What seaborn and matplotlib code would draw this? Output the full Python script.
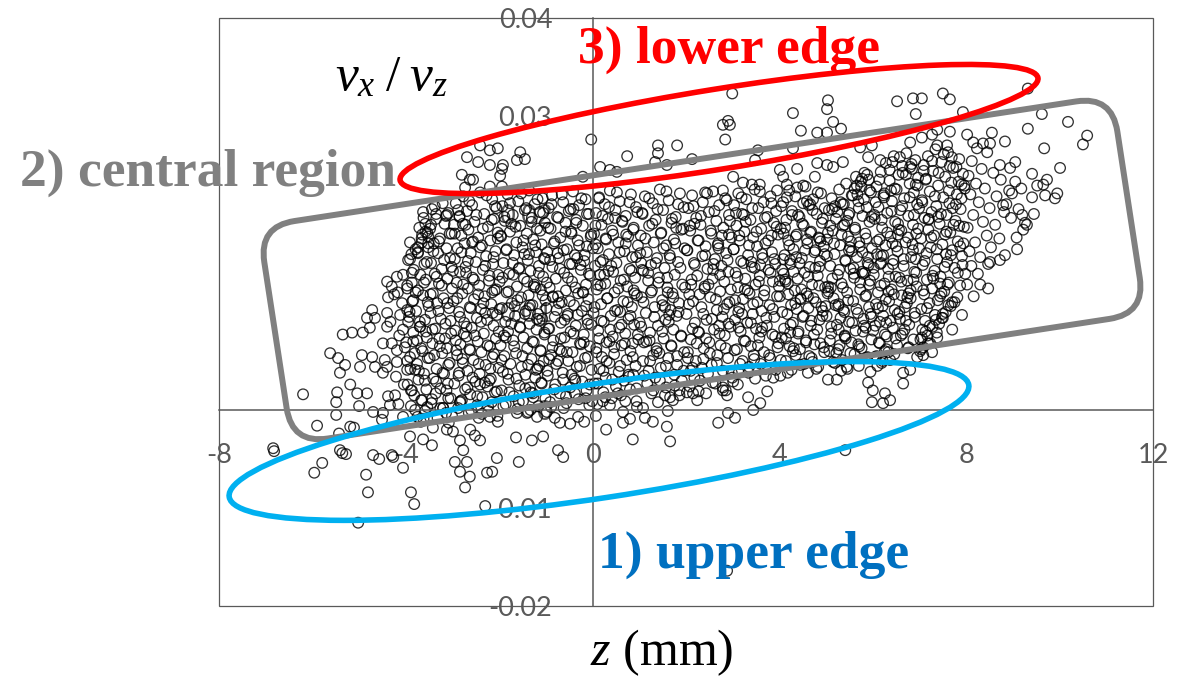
import numpy as np
import pandas as pd
import matplotlib
matplotlib.use("Agg")
import matplotlib.pyplot as plt
import matplotlib.transforms as mtransforms
from matplotlib.patches import Ellipse, FancyBboxPatch, Rectangle
import seaborn as sns

# ---------------------------------------------------------------------------
# Measured particles: z position (mm) and vx/vz ratio (in units of 1e-3)
# ---------------------------------------------------------------------------

# core of the cloud, slice by slice along z
z_a = [-4.25, -4.08, -4.33, -4.14, -4.02, -4.45, -4.21, -4.04, -4.38, -4.16]
r_a = [11.8, 10.9, 9.0, 7.6, 6.4, 5.1, 3.4, 2.6, 1.4, 0.6]

z_b = [-3.62, -3.58, -3.71, -3.54, -3.66, -3.52, -3.79, -3.88, -3.91, -3.60,
       -3.83, -3.69, -3.57, -3.97, -3.74, -3.63, -3.86, -3.51, -3.78, -3.93,
       -3.95, -3.70, -3.84, -3.55, -3.99, -3.67, -3.81, -3.53, -3.76, -3.90,
       -3.61, -3.73, -3.96, -3.56, -3.82, -3.65, -3.89, -3.59, -3.75, -3.68,
       -3.58, -3.66, -3.74, -3.55, -3.87, -3.61, -3.79, -3.53, -3.92, -3.70,
       -3.57, -3.84, -3.64, -3.97, -3.72, -3.59, -3.89, -3.67, -3.80, -3.62]
r_b = [19.6, 19.0, 18.6, 18.1, 17.5, 17.0, 16.4, 15.9, 15.4, 14.9,
       14.3, 13.8, 13.3, 12.7, 12.2, 11.7, 11.1, 10.6, 10.1, 9.5,
       9.0, 8.5, 7.9, 7.4, 6.9, 6.3, 5.8, 5.3, 4.7, 4.2,
       3.7, 3.1, 2.6, 2.1, 1.5, 1.0, 0.4, -0.1, -0.7, -1.2,
       18.2, 17.1, 16.0, 15.1, 14.0, 13.0, 12.0, 11.0, 10.0, 9.0,
       8.0, 7.0, 6.0, 5.0, 4.0, 3.0, 2.0, 1.0, 0.0, -0.9]

z_c = [-3.21, -3.44, -3.09, -3.35, -3.17, -3.48, -3.02, -3.27, -3.40, -3.13,
       -3.31, -3.05, -3.46, -3.23, -3.38, -3.11, -3.29, -3.01, -3.42, -3.19,
       -3.33, -3.07, -3.47, -3.25, -3.15, -3.37, -3.03, -3.28, -3.43, -3.12,
       -3.22, -3.49, -3.06, -3.34, -3.18, -3.41, -3.10, -3.26, -3.36, -3.04,
       -3.45, -3.20, -3.14, -3.32, -3.08,
       -3.38, -3.14, -3.46, -3.06, -3.29, -3.41, -3.18, -3.02, -3.34, -3.23,
       -3.47, -3.11, -3.30, -3.04, -3.43, -3.16, -3.27, -3.39, -3.09, -3.21,
       -3.35, -3.13, -3.44, -3.26, -3.01]
r_c = [21.1, 20.5, 20.1, 19.5, 19.0, 18.5, 18.0, 17.5, 17.0, 16.5,
       16.0, 15.5, 15.0, 14.4, 13.9, 13.4, 12.9, 12.4, 11.9, 11.4,
       10.9, 10.4, 9.9, 9.3, 8.8, 8.3, 7.8, 7.3, 6.8, 6.3,
       5.8, 5.3, 4.8, 4.2, 3.7, 3.2, 2.7, 2.2, 1.7, 1.2,
       0.7, 0.2, -0.3, -0.8, -1.3,
       20.8, 19.8, 18.9, 18.0, 17.2, 16.2, 15.3, 14.6, 13.6, 12.7,
       11.8, 10.9, 10.1, 9.1, 8.2, 7.3, 6.5, 5.6, 4.6, 3.8,
       2.9, 2.0, 1.1, 0.2, -0.6]

z_d = [-2.41, -2.77, -2.15, -2.93, -2.58, -2.06, -2.69, -2.32, -2.85, -2.11,
       -2.53, -2.97, -2.24, -2.66, -2.03, -2.81, -2.45, -2.19, -2.74, -2.37,
       -2.89, -2.08, -2.61, -2.28, -2.95, -2.50, -2.13, -2.72, -2.35, -2.84,
       -2.02, -2.57, -2.22, -2.91, -2.43, -2.67, -2.10, -2.79, -2.31, -2.54,
       -2.98, -2.17, -2.63, -2.39, -2.86, -2.05, -2.48, -2.26, -2.75, -2.12,
       -2.59, -2.94, -2.33, -2.70, -2.07, -2.46, -2.83, -2.20, -2.64, -2.38,
       -2.90, -2.14, -2.55, -2.78, -2.29, -2.01, -2.68, -2.42, -2.87, -2.18,
       -2.51, -2.96, -2.25, -2.73, -2.09, -2.62, -2.36, -2.80, -2.16, -2.47,
       -2.88, -2.23, -2.65, -2.04, -2.44, -2.71, -2.30, -2.92, -2.56, -2.21,
       -2.27, -2.64, -2.09, -2.88, -2.49, -2.16, -2.72, -2.35, -2.95, -2.03,
       -2.58, -2.41, -2.81, -2.12, -2.67, -2.30, -2.99, -2.21, -2.54, -2.77,
       -2.06, -2.45, -2.90, -2.34, -2.61, -2.14, -2.84, -2.39, -2.70, -2.01,
       -2.52, -2.93, -2.25, -2.62, -2.11, -2.79, -2.44, -2.19, -2.86, -2.57,
       -2.31, -2.68, -2.05, -2.47, -2.83, -2.24, -2.60, -2.37, -2.15, -2.76]
r_d = [22.2, 21.8, 21.5, 21.1, 20.9, 20.6, 20.3, 20.0, 19.8, 19.5,
       19.2, 18.9, 18.7, 18.4, 18.1, 17.8, 17.6, 17.3, 17.0, 16.8,
       16.5, 16.2, 16.0, 15.7, 15.4, 15.1, 14.9, 14.6, 14.3, 14.1,
       13.8, 13.5, 13.2, 13.0, 12.7, 12.4, 12.2, 11.9, 11.6, 11.3,
       11.1, 10.8, 10.5, 10.3, 10.0, 9.7, 9.4, 9.2, 8.9, 8.6,
       8.4, 8.1, 7.8, 7.5, 7.3, 7.0, 6.7, 6.5, 6.2, 5.9,
       5.6, 5.4, 5.1, 4.8, 4.6, 4.3, 4.0, 3.7, 3.5, 3.2,
       2.9, 2.7, 2.4, 2.1, 1.8, 1.6, 1.3, 1.0, 0.8, 0.5,
       0.2, -0.1, -0.3, -0.6, -0.8, 14.0, 9.9, 6.1, 17.2, 3.0,
       21.9, 21.3, 20.8, 20.4, 19.9, 19.4, 18.9, 18.5, 18.0, 17.5,
       17.1, 16.6, 16.1, 15.6, 15.2, 14.7, 14.2, 13.7, 13.3, 12.8,
       12.3, 11.8, 11.4, 10.9, 10.4, 9.9, 9.5, 9.0, 8.5, 8.0,
       7.6, 7.1, 6.6, 6.1, 5.7, 5.2, 4.7, 4.2, 3.8, 3.3,
       2.8, 2.3, 1.9, 1.4, 0.9, 0.4, 0.0, -0.4, 12.0, 7.8]

z_e = [-1.36, -1.82, -1.07, -1.59, -1.24, -1.93, -1.45, -1.13, -1.71, -1.30,
       -1.88, -1.02, -1.55, -1.19, -1.77, -1.41, -1.96, -1.27, -1.63, -1.09,
       -1.50, -1.85, -1.21, -1.68, -1.04, -1.39, -1.91, -1.15, -1.58, -1.33,
       -1.79, -1.06, -1.47, -1.99, -1.25, -1.62, -1.11, -1.84, -1.37, -1.53,
       -1.01, -1.73, -1.29, -1.94, -1.43, -1.17, -1.66, -1.08, -1.87, -1.35,
       -1.56, -1.20, -1.81, -1.03, -1.48, -1.70, -1.26, -1.97, -1.40, -1.12,
       -1.64, -1.89, -1.31, -1.05, -1.76, -1.52, -1.18, -1.92, -1.44, -1.23,
       -1.80, -1.10, -1.57, -1.34, -1.95, -1.28, -1.69, -1.01, -1.49, -1.86,
       -1.16, -1.61, -1.38, -1.74, -1.22, -1.90, -1.46, -1.14, -1.67, -1.32,
       -1.53, -1.18, -1.77, -1.42, -1.06, -1.89, -1.31, -1.65, -1.12, -1.97,
       -1.48, -1.23, -1.84, -1.36, -1.02, -1.71, -1.57, -1.15, -1.93, -1.40,
       -1.26, -1.80, -1.07, -1.61, -1.34, -1.99, -1.45, -1.19, -1.74, -1.55,
       -1.03, -1.86, -1.29, -1.68, -1.11, -1.50, -1.95, -1.38, -1.21, -1.82,
       -1.63, -1.09, -1.44, -1.78, -1.27, -1.58, -1.91, -1.33, -1.70, -1.14]
r_e = [22.4, 22.0, 21.6, 21.3, 21.0, 20.8, 20.4, 20.2, 19.9, 19.6,
       19.3, 19.1, 18.8, 18.5, 18.2, 18.0, 17.7, 17.4, 17.1, 16.9,
       16.6, 16.3, 16.1, 15.8, 15.5, 15.3, 15.0, 14.7, 14.4, 14.2,
       13.9, 13.6, 13.4, 13.1, 12.8, 12.6, 12.3, 12.0, 11.7, 11.5,
       11.2, 10.9, 10.7, 10.4, 10.1, 9.8, 9.6, 9.3, 9.0, 8.8,
       8.5, 8.2, 8.0, 7.7, 7.4, 7.1, 6.9, 6.6, 6.3, 6.1,
       5.8, 5.5, 5.2, 5.0, 4.7, 4.4, 4.2, 3.9, 3.6, 3.3,
       3.1, 2.8, 2.5, 2.3, 2.0, 1.7, 1.4, 1.2, 0.9, 0.6,
       0.4, 0.1, -0.2, 19.0, 12.5, 7.6, 15.9, 4.5, 10.6, 1.8,
       22.1, 21.5, 21.1, 20.6, 20.1, 19.7, 19.2, 18.7, 18.3, 17.8,
       17.3, 16.8, 16.4, 15.9, 15.4, 15.0, 14.5, 14.0, 13.5, 13.1,
       12.6, 12.1, 11.7, 11.2, 10.7, 10.3, 9.8, 9.3, 8.8, 8.4,
       7.9, 7.4, 7.0, 6.5, 6.0, 5.5, 5.1, 4.6, 4.1, 3.7,
       3.2, 2.7, 2.2, 1.8, 1.3, 0.8, 0.4, 0.0, 13.8, 9.1]

z_f = [-0.42, -0.87, -0.15, -0.63, -0.29, -0.94, -0.51, -0.08, -0.76, -0.35,
       -0.58, -0.21, -0.90, -0.46, -0.03, -0.69, -0.32, -0.83, -0.12, -0.55,
       -0.97, -0.38, -0.72, -0.18, -0.49, -0.86, -0.25, -0.61, -0.05, -0.79,
       -0.44, -0.14, -0.92, -0.57, -0.31, -0.74, -0.09, -0.66, -0.40, -0.99,
       -0.23, -0.53, -0.81, -0.11, -0.68, -0.36, -0.95, -0.47, -0.19, -0.60,
       -0.84, -0.27, -0.06, -0.71, -0.43, -0.89, -0.16, -0.52, -0.78, -0.34,
       -0.02, -0.64, -0.96, -0.39, -0.22, -0.80, -0.48, -0.13, -0.70, -0.57,
       -0.30, -0.91, -0.07, -0.62, -0.45, -0.26, -0.85, -0.10, -0.67, -0.37,
       -0.75, -0.20, -0.54, -0.93, -0.41,
       -0.66, -0.24, -0.88, -0.47, -0.12, -0.73, -0.35, -0.95, -0.58, -0.04,
       -0.81, -0.29, -0.62, -0.17, -0.91, -0.44, -0.70, -0.08, -0.53, -0.98,
       -0.37, -0.21, -0.85, -0.49, -0.14, -0.77, -0.32, -0.60, -0.03, -0.93,
       -0.41, -0.68, -0.19, -0.86, -0.55, -0.10, -0.74, -0.27, -0.97, -0.45,
       -0.63, -0.06, -0.82, -0.38, -0.15, -0.56, -0.89, -0.33, -0.72, -0.25]
r_f = [22.3, 21.9, 21.5, 21.2, 20.9, 20.6, 20.3, 20.0, 19.7, 19.4,
       19.1, 18.8, 18.5, 18.2, 17.9, 17.6, 17.3, 17.0, 16.7, 16.4,
       16.1, 15.8, 15.5, 15.2, 14.9, 14.6, 14.3, 14.0, 13.7, 13.4,
       13.1, 12.8, 12.5, 12.2, 11.9, 11.6, 11.3, 11.0, 10.7, 10.4,
       10.1, 9.8, 9.5, 9.2, 8.9, 8.6, 8.3, 8.0, 7.7, 7.4,
       7.1, 6.8, 6.5, 6.2, 5.9, 5.6, 5.3, 5.0, 4.7, 4.4,
       4.1, 3.8, 3.5, 3.2, 2.9, 2.6, 2.3, 2.0, 1.7, 1.4,
       1.1, 0.8, 0.5, 0.2, 18.0, 14.8, 11.5, 8.8, 6.0, 3.0,
       16.0, 12.0, 9.6, 5.2, 20.5,
       22.0, 21.6, 21.0, 20.5, 20.0, 19.6, 19.1, 18.6, 18.2, 17.7,
       17.2, 16.8, 16.3, 15.8, 15.3, 14.9, 14.4, 13.9, 13.5, 13.0,
       12.5, 12.0, 11.6, 11.1, 10.6, 10.2, 9.7, 9.2, 8.7, 8.3,
       7.8, 7.3, 6.9, 6.4, 5.9, 5.4, 5.0, 4.5, 4.0, 3.6,
       3.1, 2.6, 2.1, 1.7, 1.2, 0.7, 0.3, 15.5, 10.9, 6.7]

z_g = [0.37, 0.82, 0.14, 0.58, 0.26, 0.93, 0.49, 0.07, 0.71, 0.33,
       0.64, 0.19, 0.88, 0.42, 0.03, 0.76, 0.29, 0.55, 0.97, 0.11,
       0.68, 0.35, 0.85, 0.22, 0.51, 0.05, 0.79, 0.44, 0.16, 0.91,
       0.60, 0.27, 0.74, 0.09, 0.47, 0.95, 0.31, 0.66, 0.18, 0.84,
       0.53, 0.02, 0.39, 0.77, 0.24, 0.89, 0.57, 0.12, 0.70, 0.43,
       0.98, 0.30, 0.62, 0.08, 0.81, 0.46, 0.20, 0.73, 0.36, 0.92,
       0.15, 0.56, 0.87, 0.28, 0.67, 0.04, 0.50, 0.80, 0.23, 0.61,
       0.41, 0.94, 0.10, 0.72, 0.34, 0.59, 0.86, 0.17, 0.48, 0.78,
       0.52, 0.13, 0.79, 0.35, 0.96, 0.21, 0.63, 0.06, 0.87, 0.44,
       0.28, 0.71, 0.01, 0.58, 0.93, 0.17, 0.40, 0.83, 0.25, 0.67,
       0.10, 0.55, 0.90, 0.32, 0.75, 0.04, 0.48, 0.81, 0.19, 0.62,
       0.38, 0.97, 0.14, 0.69, 0.46, 0.08, 0.86, 0.30, 0.59, 0.23,
       0.77, 0.42, 0.11, 0.94, 0.54, 0.27, 0.70, 0.06, 0.88, 0.36]
r_g = [22.4, 22.0, 21.7, 21.3, 21.0, 20.7, 20.4, 20.1, 19.8, 19.5,
       19.2, 18.9, 18.6, 18.3, 18.0, 17.7, 17.4, 17.1, 16.8, 16.5,
       16.2, 15.9, 15.6, 15.3, 15.0, 14.7, 14.4, 14.1, 13.8, 13.5,
       13.2, 12.9, 12.6, 12.3, 12.0, 11.7, 11.4, 11.1, 10.8, 10.5,
       10.2, 9.9, 9.6, 9.3, 9.0, 8.7, 8.4, 8.1, 7.8, 7.5,
       7.2, 6.9, 6.6, 6.3, 6.0, 5.7, 5.4, 5.1, 4.8, 4.5,
       4.2, 3.9, 3.6, 3.3, 3.0, 2.7, 2.4, 2.1, 1.8, 1.5,
       1.2, 0.9, 0.6, 17.9, 14.2, 10.0, 6.8, 12.7, 19.6, 3.4,
       22.2, 21.6, 21.2, 20.7, 20.2, 19.8, 19.3, 18.8, 18.4, 17.9,
       17.5, 17.0, 16.5, 16.1, 15.6, 15.1, 14.7, 14.2, 13.8, 13.3,
       12.8, 12.4, 11.9, 11.4, 11.0, 10.5, 10.1, 9.6, 9.1, 8.7,
       8.2, 7.7, 7.3, 6.8, 6.4, 5.9, 5.4, 5.0, 4.5, 4.0,
       3.6, 3.1, 2.7, 2.2, 1.7, 1.3, 0.9, 16.9, 12.2, 7.0]

z_h = [1.44, 1.87, 1.12, 1.63, 1.29, 1.95, 1.51, 1.06, 1.78, 1.35,
       1.69, 1.21, 1.90, 1.47, 1.03, 1.74, 1.31, 1.58, 1.97, 1.16,
       1.65, 1.38, 1.83, 1.25, 1.54, 1.09, 1.76, 1.42, 1.19, 1.92,
       1.60, 1.27, 1.71, 1.05, 1.49, 1.85, 1.33, 1.67, 1.14, 1.80,
       1.56, 1.01, 1.40, 1.73, 1.23, 1.89, 1.52, 1.10, 1.68, 1.37,
       1.96, 1.30, 1.62, 1.08, 1.81, 1.46, 1.20, 1.75, 1.34, 1.91,
       1.17, 1.57, 1.86, 1.26, 1.66, 1.04, 1.50, 1.79, 1.22, 1.61,
       1.58, 1.21, 1.83, 1.39, 1.07, 1.70, 1.28, 1.94, 1.46, 1.13,
       1.77, 1.52, 1.02, 1.66, 1.35, 1.88, 1.19, 1.60, 1.41, 1.98,
       1.25, 1.73, 1.09, 1.55, 1.84, 1.32, 1.63, 1.04, 1.49, 1.90,
       1.15, 1.69, 1.37, 1.81, 1.23, 1.57, 1.95, 1.11, 1.44, 1.76,
       1.30, 1.86, 1.06, 1.64, 1.43]
r_h = [22.5, 22.1, 21.8, 21.4, 21.1, 20.7, 20.4, 20.1, 19.7, 19.4,
       19.1, 18.8, 18.4, 18.1, 17.8, 17.4, 17.1, 16.8, 16.5, 16.1,
       15.8, 15.5, 15.1, 14.8, 14.5, 14.2, 13.8, 13.5, 13.2, 12.8,
       12.5, 12.2, 11.9, 11.5, 11.2, 10.9, 10.5, 10.2, 9.9, 9.6,
       9.2, 8.9, 8.6, 8.2, 7.9, 7.6, 7.3, 6.9, 6.6, 6.3,
       5.9, 5.6, 5.3, 5.0, 4.6, 4.3, 4.0, 3.6, 3.3, 3.0,
       2.7, 2.3, 2.0, 1.7, 1.3, 15.0, 10.7, 18.6, 7.1, 12.0,
       22.3, 21.6, 21.0, 20.5, 20.0, 19.5, 19.0, 18.5, 18.0, 17.5,
       17.0, 16.5, 16.0, 15.5, 15.0, 14.5, 14.0, 13.5, 13.0, 12.5,
       12.0, 11.5, 11.0, 10.5, 10.0, 9.5, 9.0, 8.5, 8.0, 7.5,
       7.0, 6.5, 6.0, 5.5, 5.0, 4.5, 4.0, 3.5, 3.0, 2.5,
       2.0, 1.5, 14.3, 9.7, 5.8]

z_i = [2.58, 2.13, 2.84, 2.36, 2.71, 2.05, 2.49, 2.92, 2.22, 2.65,
       2.31, 2.80, 2.09, 2.54, 2.97, 2.27, 2.69, 2.42, 2.03, 2.86,
       2.35, 2.62, 2.17, 2.76, 2.46, 2.91, 2.24, 2.57, 2.82, 2.11,
       2.40, 2.73, 2.07, 2.52, 2.15, 2.88, 2.33, 2.66, 2.01, 2.78,
       2.44, 2.19, 2.95, 2.60, 2.28, 2.83, 2.10, 2.50, 2.74, 2.38,
       2.04, 2.67, 2.90, 2.21, 2.55, 2.14, 2.79, 2.47, 2.99, 2.30,
       2.63, 2.08, 2.85, 2.43, 2.18, 2.59, 2.93, 2.26, 2.70, 2.37,
       2.45, 2.87, 2.16, 2.61, 2.32, 2.94, 2.08, 2.53, 2.77, 2.25,
       2.68, 2.02, 2.41, 2.89, 2.19, 2.58, 2.73, 2.12, 2.48, 2.96,
       2.29, 2.64, 2.06, 2.81, 2.37, 2.55, 2.91, 2.14, 2.72, 2.43,
       2.23, 2.85, 2.51, 2.04, 2.66, 2.34, 2.98, 2.18, 2.57, 2.79,
       2.27, 2.92, 2.40, 2.71, 2.10]
r_i = [22.3, 21.9, 21.6, 21.2, 20.9, 20.6, 20.2, 19.9, 19.6, 19.3,
       18.9, 18.6, 18.3, 18.0, 17.6, 17.3, 17.0, 16.7, 16.3, 16.0,
       15.7, 15.4, 15.0, 14.7, 14.4, 14.1, 13.7, 13.4, 13.1, 12.8,
       12.4, 12.1, 11.8, 11.5, 11.1, 10.8, 10.5, 10.2, 9.8, 9.5,
       9.2, 8.9, 8.5, 8.2, 7.9, 7.6, 7.2, 6.9, 6.6, 6.3,
       5.9, 5.6, 5.3, 5.0, 4.6, 4.3, 4.0, 3.7, 3.3, 3.0,
       2.7, 2.4, 2.0, 1.7, 19.0, 14.9, 11.0, 8.0, 16.5, 5.2,
       22.1, 21.4, 20.8, 20.3, 19.8, 19.3, 18.8, 18.3, 17.8, 17.3,
       16.8, 16.3, 15.8, 15.3, 14.8, 14.3, 13.8, 13.3, 12.8, 12.3,
       11.8, 11.3, 10.8, 10.3, 9.8, 9.3, 8.8, 8.3, 7.8, 7.3,
       6.8, 6.3, 5.8, 5.3, 4.8, 4.3, 3.8, 3.3, 2.8, 2.3,
       1.9, 17.9, 12.6, 8.6, 4.0]

z_j = [3.47, 3.12, 3.81, 3.29, 3.66, 3.03, 3.55, 3.93, 3.20, 3.74,
       3.38, 3.88, 3.08, 3.61, 3.25, 3.97, 3.44, 3.15, 3.70, 3.52,
       3.02, 3.84, 3.33, 3.64, 3.18, 3.91, 3.41, 3.77, 3.06, 3.58,
       3.27, 3.86, 3.49, 3.11, 3.68, 3.36, 3.95, 3.22, 3.53, 3.79,
       3.14, 3.62, 3.43, 3.89, 3.05, 3.31, 3.73, 3.50, 3.17, 3.85,
       3.57, 3.24, 3.98, 3.39, 3.09, 3.67, 3.45, 3.80, 3.21, 3.60,
       3.35, 3.92, 3.13, 3.71, 3.48, 3.01, 3.83, 3.26, 3.63, 3.40,
       3.58, 3.19, 3.83, 3.42, 3.07, 3.69, 3.28, 3.94, 3.51, 3.14,
       3.76, 3.35, 3.02, 3.63, 3.89, 3.23, 3.47, 3.81, 3.10, 3.56,
       3.99, 3.32, 3.67, 3.05, 3.44, 3.86, 3.20, 3.72, 3.39, 3.13,
       3.61, 3.91, 3.27, 3.54, 3.04, 3.78, 3.46, 3.16, 3.70, 3.34,
       3.87, 3.24, 3.59, 3.12, 3.96]
r_j = [22.5, 22.1, 21.8, 21.5, 21.2, 20.9, 20.6, 20.3, 20.0, 19.7,
       19.4, 19.1, 18.8, 18.5, 18.2, 17.9, 17.6, 17.3, 17.0, 16.7,
       16.4, 16.1, 15.8, 15.5, 15.2, 14.9, 14.6, 14.3, 14.0, 13.7,
       13.4, 13.1, 12.8, 12.5, 12.2, 11.9, 11.6, 11.3, 11.0, 10.7,
       10.4, 10.1, 9.8, 9.5, 9.2, 8.9, 8.6, 8.3, 8.0, 7.7,
       7.4, 7.1, 6.8, 6.5, 6.2, 5.9, 5.6, 5.3, 5.0, 4.7,
       4.4, 4.1, 3.8, 3.5, 3.2, 2.9, 17.8, 12.3, 8.4, 15.1,
       22.3, 21.7, 21.1, 20.6, 20.1, 19.6, 19.2, 18.7, 18.2, 17.8,
       17.3, 16.8, 16.4, 15.9, 15.4, 15.0, 14.5, 14.0, 13.6, 13.1,
       12.6, 12.2, 11.7, 11.2, 10.8, 10.3, 9.8, 9.4, 8.9, 8.4,
       8.0, 7.5, 7.0, 6.6, 6.1, 5.6, 5.2, 4.7, 4.2, 3.8,
       3.3, 19.9, 14.8, 10.0, 6.4]

z_k = [4.56, 4.21, 4.89, 4.34, 4.72, 4.08, 4.63, 4.97, 4.27, 4.80,
       4.43, 4.15, 4.91, 4.52, 4.03, 4.68, 4.37, 4.84, 4.19, 4.60,
       4.95, 4.30, 4.75, 4.11, 4.48, 4.87, 4.24, 4.65, 4.06, 4.54,
       4.82, 4.39, 4.13, 4.70, 4.98, 4.33, 4.58, 4.01, 4.46, 4.78,
       4.25, 4.62, 4.93, 4.17, 4.50, 4.86, 4.29, 4.67, 4.10, 4.41,
       4.74, 4.05, 4.57, 4.88, 4.22, 4.44, 4.96, 4.35, 4.69, 4.14,
       4.53, 4.83, 4.26, 4.61, 4.02, 4.40, 4.77, 4.18, 4.92, 4.31,
       4.66, 4.09, 4.85, 4.45, 4.23, 4.71, 4.36, 4.99, 4.12, 4.59,
       4.38, 4.82, 4.16, 4.59, 4.04, 4.71, 4.27, 4.93, 4.49, 4.12,
       4.66, 4.35, 4.88, 4.21, 4.55, 4.97, 4.08, 4.43, 4.77, 4.30,
       4.62, 4.01, 4.85, 4.47, 4.19, 4.73, 4.34, 4.90, 4.06, 4.52,
       4.68, 4.24, 4.81, 4.40, 4.14, 4.57, 4.95, 4.29, 4.64, 4.03,
       4.45, 4.79, 4.18, 4.51, 4.86, 4.09, 4.37, 4.75, 4.23, 4.61]
r_k = [22.8, 22.4, 22.1, 21.8, 21.5, 21.2, 20.9, 20.6, 20.3, 20.0,
       19.7, 19.4, 19.1, 18.8, 18.5, 18.2, 17.9, 17.6, 17.3, 17.0,
       16.7, 16.4, 16.1, 15.8, 15.5, 15.2, 14.9, 14.6, 14.3, 14.0,
       13.7, 13.4, 13.1, 12.8, 12.5, 12.2, 11.9, 11.6, 11.3, 11.0,
       10.7, 10.4, 10.1, 9.8, 9.5, 9.2, 8.9, 8.6, 8.3, 8.0,
       7.7, 7.4, 7.1, 6.8, 6.5, 6.2, 5.9, 5.6, 5.3, 5.0,
       4.7, 4.4, 4.1, 3.8, 3.5, 19.9, 16.3, 12.9, 9.6, 6.3,
       21.0, 18.0, 14.6, 11.4, 7.9, 4.9, 15.6, 10.6, 13.3, 17.4,
       22.7, 22.2, 21.7, 21.3, 20.8, 20.4, 19.9, 19.5, 19.0, 18.6,
       18.1, 17.7, 17.2, 16.8, 16.3, 15.9, 15.4, 15.0, 14.5, 14.1,
       13.6, 13.2, 12.7, 12.3, 11.8, 11.4, 10.9, 10.5, 10.0, 9.6,
       9.1, 8.7, 8.2, 7.8, 7.3, 6.9, 6.4, 6.0, 5.5, 5.1,
       4.6, 4.2, 3.8, 21.1, 17.5, 13.9, 10.3, 6.7, 15.3, 11.6]

z_l = [5.82, 5.64, 5.91, 5.43, 5.75, 5.28, 5.96, 5.57, 5.12, 5.69,
       5.35, 5.87, 5.06, 5.50, 5.78, 5.21, 5.93, 5.39, 5.62, 5.14,
       5.84, 5.47, 5.02, 5.71, 5.30, 5.98, 5.55, 5.18, 5.66, 5.41,
       5.89, 5.09, 5.52, 5.77, 5.25, 5.60, 5.94, 5.33, 5.04, 5.73,
       5.45, 5.86, 5.16, 5.58, 5.27, 5.92, 5.37, 5.68, 5.01, 5.80,
       5.49, 5.23, 5.85, 5.63, 5.11, 5.40, 5.97, 5.54, 5.29, 5.76,
       5.07, 5.61, 5.88, 5.34, 5.19, 5.70, 5.46, 5.95, 5.13, 5.53,
       5.79, 5.26, 5.42, 5.90, 5.67, 5.03, 5.36, 5.81, 5.59, 5.22,
       5.48, 5.72, 5.10, 5.97, 5.31,
       5.88, 5.74, 5.66, 5.93, 5.55, 5.81, 5.38, 5.70, 5.24, 5.97,
       5.45, 5.09, 5.62, 5.33, 5.86, 5.17, 5.51, 5.78, 5.02, 5.42,
       5.91, 5.28, 5.59, 5.13, 5.73, 5.36, 5.05, 5.84, 5.47, 5.20,
       5.65, 5.95, 5.31, 5.56, 5.11, 5.79, 5.40, 5.08, 5.69, 5.26,
       5.52, 5.87, 5.15, 5.44, 5.32, 5.61, 5.04, 5.83, 5.39, 5.71,
       5.19, 5.49, 5.92, 5.27, 5.77]
r_l = [24.2, 23.8, 23.5, 23.1, 22.8, 22.5, 22.2, 21.9, 21.6, 21.3,
       21.0, 20.7, 20.4, 20.1, 19.8, 19.5, 19.2, 18.9, 18.6, 18.3,
       18.0, 17.7, 17.4, 17.1, 16.8, 16.5, 16.2, 15.9, 15.6, 15.3,
       15.0, 14.7, 14.4, 14.1, 13.8, 13.5, 13.2, 12.9, 12.6, 12.3,
       12.0, 11.7, 11.4, 11.1, 10.8, 10.5, 10.2, 9.9, 9.6, 9.3,
       9.0, 8.7, 8.4, 8.1, 7.8, 7.5, 7.2, 6.9, 6.6, 6.3,
       6.0, 5.7, 5.4, 5.1, 4.8, 4.5, 4.2, 3.9, 20.5, 17.2,
       13.9, 10.6, 7.3, 15.6, 22.0, 11.9, 18.8, 8.6, 14.5, 5.8,
       19.9, 16.7, 12.5, 9.5, 21.2,
       24.0, 23.3, 22.9, 22.4, 21.9, 21.5, 21.0, 20.6, 20.2, 19.7,
       19.3, 18.8, 18.4, 17.9, 17.5, 17.0, 16.6, 16.1, 15.7, 15.2,
       14.8, 14.3, 13.9, 13.4, 13.0, 12.5, 12.1, 11.6, 11.2, 10.7,
       10.3, 9.8, 9.4, 8.9, 8.5, 8.0, 7.6, 7.1, 6.7, 6.2,
       5.8, 5.3, 4.9, 4.4, 4.0, 22.6, 18.1, 14.0, 10.0, 6.5,
       20.8, 16.3, 12.8, 8.2, 23.6]

z_m = [6.72, 6.45, 6.91, 6.28, 6.63, 6.84, 6.17, 6.55, 6.97, 6.36,
       6.79, 6.08, 6.51, 6.88, 6.23, 6.67, 6.41, 6.95, 6.12, 6.59,
       6.31, 6.76, 6.04, 6.48, 6.86, 6.20, 6.61, 6.93, 6.38, 6.14,
       6.70, 6.27, 6.99, 6.53, 6.09, 6.82, 6.44, 6.18, 6.66, 6.33,
       6.89, 6.02, 6.57, 6.74, 6.25, 6.94, 6.40, 6.11, 6.62, 6.81,
       6.35, 6.07, 6.69, 6.47, 6.90, 6.22, 6.58, 6.15, 6.78, 6.43,
       6.01, 6.64, 6.30, 6.87, 6.13, 6.52, 6.75, 6.26, 6.46, 6.05,
       6.37, 6.19, 6.10, 6.80, 6.24, 6.56, 6.92, 6.34, 6.71, 6.03,
       6.85, 6.49, 6.21, 6.60, 6.96, 6.42, 6.16, 6.77, 6.29, 6.54,
       6.58, 6.83, 6.36, 6.71, 6.14, 6.92, 6.47, 6.25, 6.79, 6.06,
       6.63, 6.40, 6.88, 6.19, 6.54, 6.97, 6.31, 6.75, 6.09, 6.50,
       6.86, 6.22, 6.66, 6.43, 6.02, 6.93, 6.34, 6.61, 6.17, 6.81,
       6.45, 6.28, 6.73, 6.11, 6.57, 6.90, 6.38, 6.05, 6.68, 6.26,
       6.49, 6.15, 6.77, 6.33, 6.08, 6.21, 6.64, 6.99, 6.42, 6.87,
       6.53, 6.29, 6.18, 6.74, 6.39]
r_m = [26.2, 25.9, 25.5, 25.2, 24.9, 24.6, 24.3, 24.0, 23.7, 23.4,
       23.1, 22.8, 22.5, 22.2, 21.9, 21.6, 21.3, 21.0, 20.7, 20.4,
       20.1, 19.8, 19.5, 19.2, 18.9, 18.6, 18.3, 18.0, 17.7, 17.4,
       17.1, 16.8, 16.5, 16.2, 15.9, 15.6, 15.3, 15.0, 14.7, 14.4,
       14.1, 13.8, 13.5, 13.2, 12.9, 12.6, 12.3, 12.0, 11.7, 11.4,
       11.1, 10.8, 10.5, 10.2, 9.9, 9.6, 9.3, 9.0, 8.7, 8.4,
       8.1, 7.8, 7.5, 7.2, 6.9, 6.6, 6.3, 6.0, 5.7, 5.4,
       5.1, 4.8, 4.5, 24.8, 21.7, 18.4, 15.4, 12.1, 9.1, 19.9,
       16.9, 13.6, 10.6, 7.6, 22.9, 25.3, 14.9, 11.9, 8.9, 17.9,
       25.8, 25.1, 24.5, 24.0, 23.5, 23.0, 22.6, 22.1, 21.7, 21.2,
       20.8, 20.3, 19.9, 19.4, 19.0, 18.5, 18.1, 17.6, 17.2, 16.7,
       16.3, 15.8, 15.4, 14.9, 14.5, 14.0, 13.6, 13.1, 12.7, 12.2,
       11.8, 11.3, 10.9, 10.4, 10.0, 9.5, 9.1, 8.6, 8.2, 7.7,
       7.3, 6.8, 6.4, 5.9, 5.5, 5.0, 24.2, 20.6, 17.0, 13.3,
       9.8, 6.2, 15.7, 11.5, 22.4]

z_n = [7.34, 7.61, 7.18, 7.85, 7.47, 7.09, 7.72, 7.29, 7.93, 7.55,
       7.13, 7.68, 7.40, 7.97, 7.22, 7.80, 7.51, 7.05, 7.64, 7.36,
       7.88, 7.26, 7.58, 7.11, 7.77, 7.43, 7.95, 7.19, 7.66, 7.31,
       7.03, 7.82, 7.49, 7.24, 7.70, 7.15, 7.91, 7.38, 7.59, 7.07,
       7.75, 7.32, 7.98, 7.45, 7.16, 7.63, 7.87, 7.27, 7.53, 7.10,
       7.81, 7.39, 7.21, 7.67, 7.04, 7.56, 7.33, 7.48, 7.12, 7.42,
       7.28, 7.06, 7.37, 7.17, 7.02, 7.23, 7.08, 7.01, 7.84, 7.73,
       7.57, 7.44, 7.90, 7.20, 7.65,
       7.52, 7.27, 7.79, 7.41, 7.14, 7.90, 7.63, 7.33, 7.06, 7.71,
       7.46, 7.19, 7.85, 7.58, 7.25, 7.94, 7.37, 7.67, 7.11, 7.54,
       7.82, 7.30, 7.60, 7.08, 7.44, 7.75, 7.16, 7.50, 7.35, 7.22,
       7.13, 7.05, 7.18, 7.03, 7.69, 7.96, 7.40, 7.87, 7.28, 7.62,
       7.09, 7.78, 7.55, 7.92, 7.47]
r_n = [26.6, 26.3, 25.9, 25.6, 25.3, 25.0, 24.7, 24.4, 24.1, 23.8,
       23.5, 23.2, 22.9, 22.6, 22.3, 22.0, 21.7, 21.4, 21.1, 20.8,
       20.5, 20.2, 19.9, 19.6, 19.3, 19.0, 18.7, 18.4, 18.1, 17.8,
       17.5, 17.2, 16.9, 16.6, 16.3, 16.0, 15.7, 15.4, 15.1, 14.8,
       14.5, 14.2, 13.9, 13.6, 13.3, 13.0, 12.7, 12.4, 12.1, 11.8,
       11.5, 11.2, 10.9, 10.6, 10.3, 10.0, 9.7, 9.4, 9.1, 8.8,
       8.5, 8.2, 7.9, 7.6, 7.2, 6.8, 6.4, 6.0, 23.3, 18.9,
       15.9, 12.9, 21.6, 19.5, 24.9,
       26.1, 25.4, 24.8, 24.2, 23.6, 23.0, 22.4, 21.8, 21.2, 20.6,
       20.0, 19.4, 18.8, 18.2, 17.6, 17.0, 16.4, 15.8, 15.2, 14.6,
       14.0, 13.4, 12.8, 12.2, 11.6, 11.0, 10.4, 9.8, 9.2, 8.6,
       8.0, 7.4, 6.8, 6.2, 25.8, 22.9, 19.7, 16.7, 13.7, 10.7,
       24.4, 21.0, 17.9, 14.8, 11.9]

z_o = [8.12, 8.33, 8.05, 8.58, 8.21, 8.74, 8.40, 8.09, 8.65, 8.92,
       8.27, 8.50, 8.15, 8.81, 8.36, 8.03, 8.62, 8.44, 8.19, 8.71,
       8.07, 8.30, 8.53, 8.11, 8.25, 8.02, 8.16, 8.96, 8.86, 8.47,
       9.12, 9.30, 9.08, 9.45, 9.18, 9.52]
r_o = [25.4, 24.6, 23.9, 24.2, 23.1, 23.5, 22.6, 22.0, 21.8, 22.4,
       21.2, 20.6, 19.9, 20.2, 19.2, 18.6, 18.9, 17.8, 17.1, 17.5,
       16.2, 15.6, 16.6, 14.7, 13.9, 12.8, 11.6, 19.6, 21.0, 14.9,
       20.5, 18.9, 17.6, 20.0, 22.6, 22.9]

# sparse particles around the core: (z, ratio) pairs
top_pts = [
    (-2.69, 25.8), (-2.80, 24.0), (-2.63, 23.5), (-2.73, 22.7), (-2.41, 27.0),
    (-2.20, 26.5), (-2.03, 26.7), (-1.55, 26.3), (-1.45, 25.6), (-1.62, 25.5),
    (-2.45, 25.3), (-2.20, 25.0), (-1.92, 25.0), (-1.94, 24.6), (-1.98, 23.9),
    (-2.56, 23.5), (-0.03, 27.6), (0.74, 25.9), (1.40, 27.0), (1.40, 26.2),
    (1.34, 25.3), (1.59, 25.0), (1.81, 27.0), (0.16, 24.8), (0.37, 24.5),
    (0.52, 24.3), (-0.21, 23.8), (-2.20, 22.8), (-1.94, 22.8), (2.99, 32.3),
    (5.04, 31.6), (5.02, 30.7), (4.29, 30.3), (2.79, 29.1), (2.94, 29.1),
    (2.90, 29.5), (5.15, 29.4), (4.46, 28.5), (4.81, 28.3), (5.02, 28.3),
    (5.32, 28.7), (2.84, 27.6), (2.13, 25.6), (3.54, 26.5), (3.48, 25.5),
    (4.29, 26.7), (5.36, 25.3), (4.81, 25.2), (5.02, 25.0), (4.01, 24.5),
    (4.38, 24.6), (4.08, 23.8), (4.76, 23.8), (5.15, 24.8), (5.73, 26.8),
    (5.98, 27.0), (5.90, 25.8), (6.16, 25.5), (3.01, 23.8), (3.22, 23.2),
    (2.41, 22.2), (2.79, 22.4), (3.41, 23.0), (3.58, 23.0), (3.95, 22.4),
    (4.16, 23.0), (4.51, 22.9), (-3.63, 20.2), (-3.35, 20.0), (-3.12, 19.9),
    (-2.85, 19.7), (-2.78, 19.0),
]

right_pts = [
    (6.52, 31.5), (6.86, 31.8), (7.05, 31.8), (7.50, 32.3), (7.65, 31.7),
    (9.32, 32.8), (6.92, 30.2), (7.93, 30.4), (9.62, 30.2), (10.18, 29.4),
    (9.32, 28.7), (10.59, 28.0), (10.50, 27.1), (9.67, 26.7), (8.83, 27.4),
    (8.55, 28.3), (8.02, 28.1), (7.65, 28.4), (7.38, 28.6), (7.27, 28.1),
    (7.05, 27.8), (6.80, 27.3), (7.38, 27.0), (7.59, 27.0), (8.15, 27.3),
    (8.36, 27.2), (8.51, 27.2), (8.23, 26.7), (8.45, 26.3), (9.05, 25.3),
    (8.72, 25.0), (8.94, 24.7), (10.01, 24.7), (9.41, 24.1), (9.73, 23.5),
    (9.65, 23.0), (9.95, 22.1), (9.90, 21.6), (9.69, 21.9), (9.41, 21.7),
    (9.05, 23.3), (8.98, 22.1), (8.79, 20.9), (9.20, 19.9), (9.26, 19.1),
    (9.09, 16.4), (8.83, 15.8), (8.72, 15.3), (8.51, 15.1), (8.47, 12.4),
    (8.30, 12.8), (7.91, 9.7), (7.70, 8.2), (7.70, 11.0), (7.50, 9.4),
    (7.38, 7.4), (7.27, 5.9), (7.08, 5.6), (6.95, 5.4), (6.80, 4.1),
    (6.65, 3.8), (9.22, 18.4),
]

left_pts = [
    (-3.65, 17.9), (-3.52, 17.7), (-3.91, 17.1), (-3.74, 16.6), (-3.95, 15.3),
    (-3.74, 16.1), (-3.52, 16.6), (-4.40, 13.1), (-4.30, 12.6), (-4.19, 13.6),
    (-4.06, 13.8), (-4.38, 11.5), (-4.17, 12.0), (-3.97, 12.4), (-3.87, 13.0),
    (-4.72, 10.2), (-4.83, 9.4), (-4.66, 9.4), (-4.77, 8.4), (-5.35, 7.7),
    (-5.15, 7.9), (-4.92, 7.9), (-5.62, 5.8), (-5.45, 5.3), (-5.30, 4.6),
    (-5.41, 3.8), (-4.94, 5.6), (-4.98, 4.4), (-4.72, 5.4), (-4.66, 4.4),
    (-4.49, 6.8), (-4.40, 8.5), (-4.30, 6.8), (-4.19, 6.1), (-4.19, 4.9),
    (-4.40, 4.4), (-4.49, 3.8), (-4.06, 8.2), (-3.97, 10.2), (-4.12, 9.7),
    (-4.40, 9.9), (-3.84, 11.2), (-3.91, 5.4), (-3.97, 4.1), (-3.80, 4.1),
    (-3.76, 7.1), (-3.69, 8.5), (-3.59, 9.2),
]

bottom_pts = [
    (-6.20, 1.6), (-5.47, 1.8), (-5.49, 0.8), (-5.49, -0.5), (-5.90, -1.6),
    (-5.43, -2.4), (-5.19, -1.7), (-5.11, -1.8), (-6.84, -3.9), (-6.82, -4.2),
    (-5.41, -4.1), (-5.28, -4.5), (-5.36, -4.4), (-5.79, -5.4), (-5.96, -6.4),
    (-4.85, -6.6), (-4.81, -8.4), (-4.70, -4.6), (-4.57, -5.0), (-4.30, -4.6),
    (-4.27, -4.8), (-4.06, -5.9), (-3.91, -2.7), (-3.63, -3.0), (-3.44, -3.6),
    (-3.89, -8.4), (-3.82, -9.6), (-5.02, -11.5), (-5.00, 0.4), (-4.70, -0.2),
    (-4.51, -1.0), (-4.49, -0.3), (-4.06, -0.7), (-4.34, 0.5), (-4.23, 1.5),
    (-3.87, 2.0), (-5.19, 2.6), (-5.04, 1.7), (-4.83, 1.7), (-3.54, 0.3),
    (-3.42, -1.8), (-3.20, 0.2), (-3.12, -2.0), (-2.99, -2.2), (-2.84, -3.1),
    (-2.95, -5.3), (-2.84, -6.3), (-2.73, -7.9), (-2.69, -5.3), (-2.77, -4.1),
    (-3.09, 1.2), (-2.84, 0.8), (-2.41, 2.6), (-2.62, -2.0), (-2.52, -2.6),
    (-2.41, -3.1), (-1.64, -2.8), (-1.30, -3.1), (-1.06, -2.7), (-0.74, -4.1),
    (-0.63, -4.8), (-1.58, -5.3), (-2.05, -4.9), (-2.26, -6.4), (-2.15, -6.3),
    (-2.63, -6.8), (-2.30, -9.8), (-0.31, -0.7), (-0.18, -1.2), (0.07, -0.6),
    (0.29, -2.0), (0.65, -1.3), (0.80, -0.9), (0.86, -3.0), (1.12, -0.8),
    (1.29, -1.2), (1.61, -0.1), (1.59, -1.7), (1.66, -3.2), (-0.70, -1.3),
    (-0.48, -1.4), (-0.81, -0.8), (-0.98, -0.2), (-1.19, -0.7), (-1.40, -0.3),
    (-1.62, -0.3), (-2.03, -1.2), (-2.20, -0.7), (0.65, -0.2), (0.95, 0.3),
    (1.08, 0.2), (1.40, 0.8), (1.55, 1.5), (1.72, 1.0), (0.37, 0.5),
    (0.22, 0.9), (-0.01, 0.9), (2.69, -1.3), (2.90, -0.3), (3.05, -0.8),
    (3.44, 0.0), (3.59, 0.7), (3.74, 1.9), (3.33, 1.3), (2.79, 2.0),
    (2.88, 1.5), (3.11, 2.6), (2.24, 1.0), (2.15, 1.7), (2.02, 1.8),
    (5.41, -4.1), (5.98, 0.8), (6.00, 2.0), (6.22, 0.7), (6.26, 1.7),
    (5.04, 3.1), (5.23, 3.1), (5.90, 2.8), (6.65, 2.7), (6.37, 1.0),
    (2.88, -16.4),
]

# axis ticks
x_ticks = [-8, -4, 0, 4, 8, 12]
x_tick_labels = ["-8", "-4", "0", "4", "8", "12"]
y_ticks = [-0.02, -0.01, 0.0, 0.01, 0.02, 0.03, 0.04]
y_tick_labels = ["-0.02", "-0.01", "0", "0.01", "0.02", "0.03", "0.04"]

# region annotations: centre (z, ratio), size in pixels, tilt in degrees
central_center = (2.343, 0.01429)
central_size = (863, 220)
central_angle = 8.7
lower_center = (2.707, 0.02867)
lower_size = (646, 80)
lower_angle = 9.1
upper_center = (0.137, -0.00316)
upper_size = (748, 114)
upper_angle = 8.6

# ---------------------------------------------------------------------------
slices = [(z_a, r_a), (z_b, r_b), (z_c, r_c), (z_d, r_d), (z_e, r_e),
          (z_f, r_f), (z_g, r_g), (z_h, r_h), (z_i, r_i), (z_j, r_j),
          (z_k, r_k), (z_l, r_l), (z_m, r_m), (z_n, r_n), (z_o, r_o)]
pairs = []
for zs, rs in slices:
    pairs.extend(zip(zs, rs, strict=True))
for group in (top_pts, right_pts, left_pts, bottom_pts):
    pairs.extend(group)
cloud = pd.DataFrame(pairs, columns=["z", "ratio_milli"])
cloud["ratio"] = cloud["ratio_milli"] * 1e-3

sns.set_theme(style="white")
plt.rcParams["font.family"] = ["Lato", "DejaVu Sans"]
plt.rcParams["axes.unicode_minus"] = False
plt.rcParams["mathtext.fontset"] = "custom"
plt.rcParams["mathtext.it"] = "Liberation Serif:italic"
plt.rcParams["mathtext.rm"] = "Liberation Serif"

W, H = 1189, 676
fig = plt.figure(figsize=(W / 100, H / 100), dpi=100)
fig.patch.set_facecolor("white")
ax = fig.add_axes([219 / W, 1 - 606 / H, (1153 - 219) / W, (606 - 18) / H])

sns.scatterplot(data=cloud, x="z", y="ratio", ax=ax, marker="o", s=58,
                facecolors="none", edgecolor=(0, 0, 0, 0.8), linewidth=0.95,
                legend=False, zorder=2)

ax.set_xlim(-8, 12)
ax.set_ylim(-0.02, 0.04)
ax.set_xticks(x_ticks)
ax.set_xticklabels(x_tick_labels)
ax.set_yticks(y_ticks)
ax.set_yticklabels(y_tick_labels)
ax.set_xlabel("")
ax.set_ylabel("")
ax.set_axisbelow(True)
ax.grid(False)

for side in ("top", "right"):
    ax.spines[side].set_visible(False)
ax.spines["left"].set_position(("data", 0))
ax.spines["bottom"].set_position(("data", 0))
for side in ("left", "bottom"):
    ax.spines[side].set_color("#595959")
    ax.spines[side].set_linewidth(1.1)
ax.tick_params(direction="in", length=7, width=1, color="#595959",
               labelcolor="#595959", labelsize=19.5)
ax.tick_params(axis="x", pad=24)
ax.tick_params(axis="y", pad=29)
ax.add_patch(Rectangle((0, 0), 1, 1, transform=ax.transAxes, fill=False,
                       ec="#595959", lw=0.9, zorder=3, clip_on=False))

# region outlines, drawn in pixel space so their tilt is not distorted
ident = mtransforms.IdentityTransform()
cx, cy = ax.transData.transform(central_center)
box = FancyBboxPatch((-central_size[0] / 2, -central_size[1] / 2),
                     central_size[0], central_size[1],
                     boxstyle="round,pad=0,rounding_size=36",
                     transform=mtransforms.Affine2D().rotate_deg(central_angle).translate(cx, cy),
                     fill=False, ec="#808080", lw=4.3, zorder=5)
fig.add_artist(box)

lx, ly = ax.transData.transform(lower_center)
fig.add_artist(Ellipse((lx, ly), lower_size[0], lower_size[1], angle=lower_angle,
                       transform=ident, fill=False, ec="#ff0000", lw=4.0, zorder=6))
ux, uy = ax.transData.transform(upper_center)
fig.add_artist(Ellipse((ux, uy), upper_size[0], upper_size[1], angle=upper_angle,
                       transform=ident, fill=False, ec="#00b0f0", lw=4.0, zorder=6))

serif = ["Liberation Serif", "DejaVu Serif"]
fig.text(578 / W, 1 - 63 / H, "3) lower edge", color="#ff0000", fontsize=38.5,
         fontweight="bold", family=serif, ha="left", va="baseline", zorder=7)
fig.text(20 / W, 1 - 186 / H, "2) central region", color="#808080", fontsize=38.5,
         fontweight="bold", family=serif, ha="left", va="baseline", zorder=7)
fig.text(598 / W, 1 - 568 / H, "1) upper edge", color="#0070c0", fontsize=38.5,
         fontweight="bold", family=serif, ha="left", va="baseline", zorder=7)
fig.text(335 / W, 1 - 90 / H, r"$v_x\;/\;v_z$", color="black", fontsize=37,
         family=serif, ha="left", va="baseline", zorder=7)
fig.text(662 / W, 1 - 665 / H, r"$z$ (mm)", color="black", fontsize=36,
         family=serif, ha="center", va="baseline", zorder=7)

fig.savefig("out.png", dpi=100, facecolor="white")
